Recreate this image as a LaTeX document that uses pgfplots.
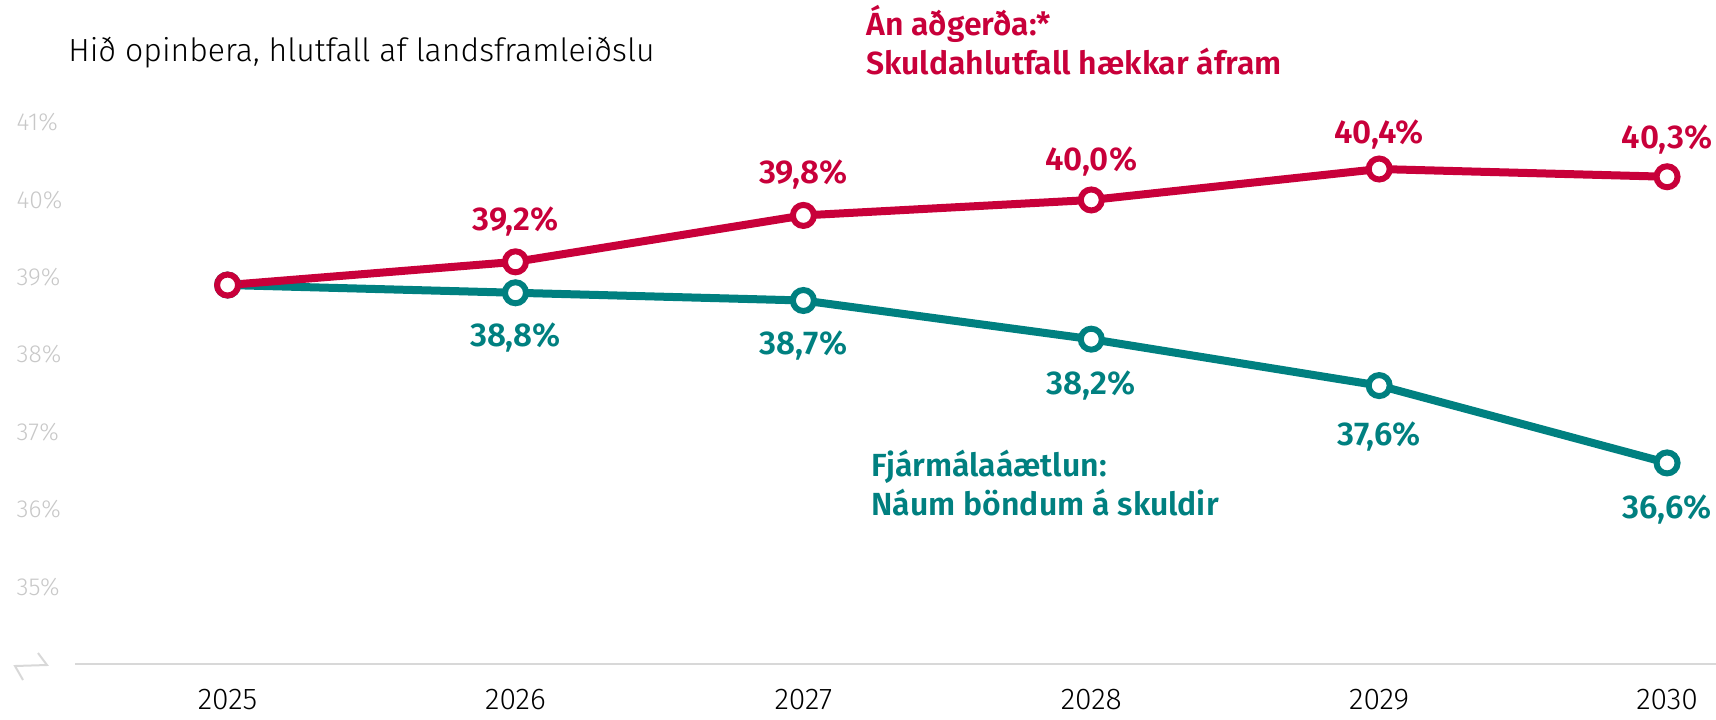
\documentclass[border=0pt]{standalone}
\usepackage{fontspec}
\setmainfont{Fira Sans Light}
\newfontfamily\semib{Fira Sans SemiBold}
\usepackage{pgfplots}
\usepackage{pgfplotstable}
\pgfplotsset{compat=1.18}
\definecolor{redline}{RGB}{200,0,58}
\definecolor{tealline}{RGB}{0,128,128}
\definecolor{tickgray}{RGB}{200,200,200}
\definecolor{axisgray}{RGB}{216,216,216}

% year, value, label, label offset (pt)
\pgfplotstableread{
year value label off
2025 38.9 {} 0
2026 38.8 {38,8\%} -22.2
2027 38.7 {38,7\%} -22.7
2028 38.2 {38,2\%} -23.3
2029 37.6 {37,6\%} -25.5
2030 36.6 {36,6\%} -23.3
}\planline
\pgfplotstableread{
year value label off
2025 38.9 {} 0
2026 39.2 {39,2\%} 20.4
2027 39.8 {39,8\%} 20.4
2028 40.0 {40,0\%} 19.3
2029 40.4 {40,4\%} 17.1
2030 40.3 {40,3\%} 18.8
}\noaction

\begin{document}
\begin{tikzpicture}
\path[use as bounding box] (-37.5pt,-27.5pt) rectangle (820.5pt,332pt);
\begin{axis}[
    scale only axis,
    width=820.5pt, height=270.7pt,
    xmin=2024.47, xmax=2030.17,
    ymin=34, ymax=41,
    axis x line*=bottom, axis y line*=left,
    x axis line style={axisgray, line width=1pt},
    y axis line style={draw=none},
    major tick length=0pt,
    xtick={2025,2026,2027,2028,2029,2030},
    xticklabels={2025,2026,2027,2028,2029,2030},
    xticklabel style={font=\fontsize{15}{18}\selectfont, anchor=center, yshift=-18pt},
    ytick={35,36,37,38,39,40,41},
    yticklabels={35\%,36\%,37\%,38\%,39\%,40\%,41\%},
    yticklabel style={font=\fontsize{12.3}{15}\selectfont, text=tickgray, anchor=west, xshift=-29.4pt, inner sep=0pt},
    clip=false,
    nodes near coords,
    point meta=explicit symbolic,
    visualization depends on={\thisrow{off}\as\labeloff},
]
\addplot[tealline, line width=4pt, mark=*, mark size=5.25pt,
    mark options={fill=white, draw=tealline, line width=3pt},
    every node near coord/.style={font=\semib\fontsize{16.5}{19}\selectfont, text=tealline, anchor=center, yshift=\labeloff pt}]
    table[x=year, y=value, meta=label] {\planline};
\addplot[redline, line width=4pt, mark=*, mark size=5.25pt,
    mark options={fill=white, draw=redline, line width=3pt},
    every node near coord/.style={font=\semib\fontsize{16.5}{19}\selectfont, text=redline, anchor=center, yshift=\labeloff pt}]
    table[x=year, y=value, meta=label] {\noaction};
\end{axis}
\node[anchor=west, inner sep=0pt, font=\fontsize{16}{19}\selectfont] at (-3.5pt,305.75pt) {Hið opinbera, hlutfall af landsframleiðslu};
\node[anchor=base west, inner sep=0pt, text=redline, font=\semib\fontsize{16}{19}\selectfont] at (395.5pt,314pt) {Án aðgerða:*};
\node[anchor=base west, inner sep=0pt, text=redline, font=\semib\fontsize{16}{19}\selectfont] at (395.5pt,294.5pt) {Skuldahlutfall hækkar áfram};
\node[anchor=base west, inner sep=0pt, text=tealline, font=\semib\fontsize{16}{19}\selectfont] at (398pt,94pt) {Fjármálaáætlun:};
\node[anchor=base west, inner sep=0pt, text=tealline, font=\semib\fontsize{16}{19}\selectfont] at (398pt,74.4pt) {Náum böndum á skuldir};
\draw[axisgray, line width=1pt] (-18.5pt,5.5pt) -- (-14pt,-0.5pt) -- (-30pt,-1pt) -- (-26pt,-8pt);
\end{tikzpicture}
\end{document}
